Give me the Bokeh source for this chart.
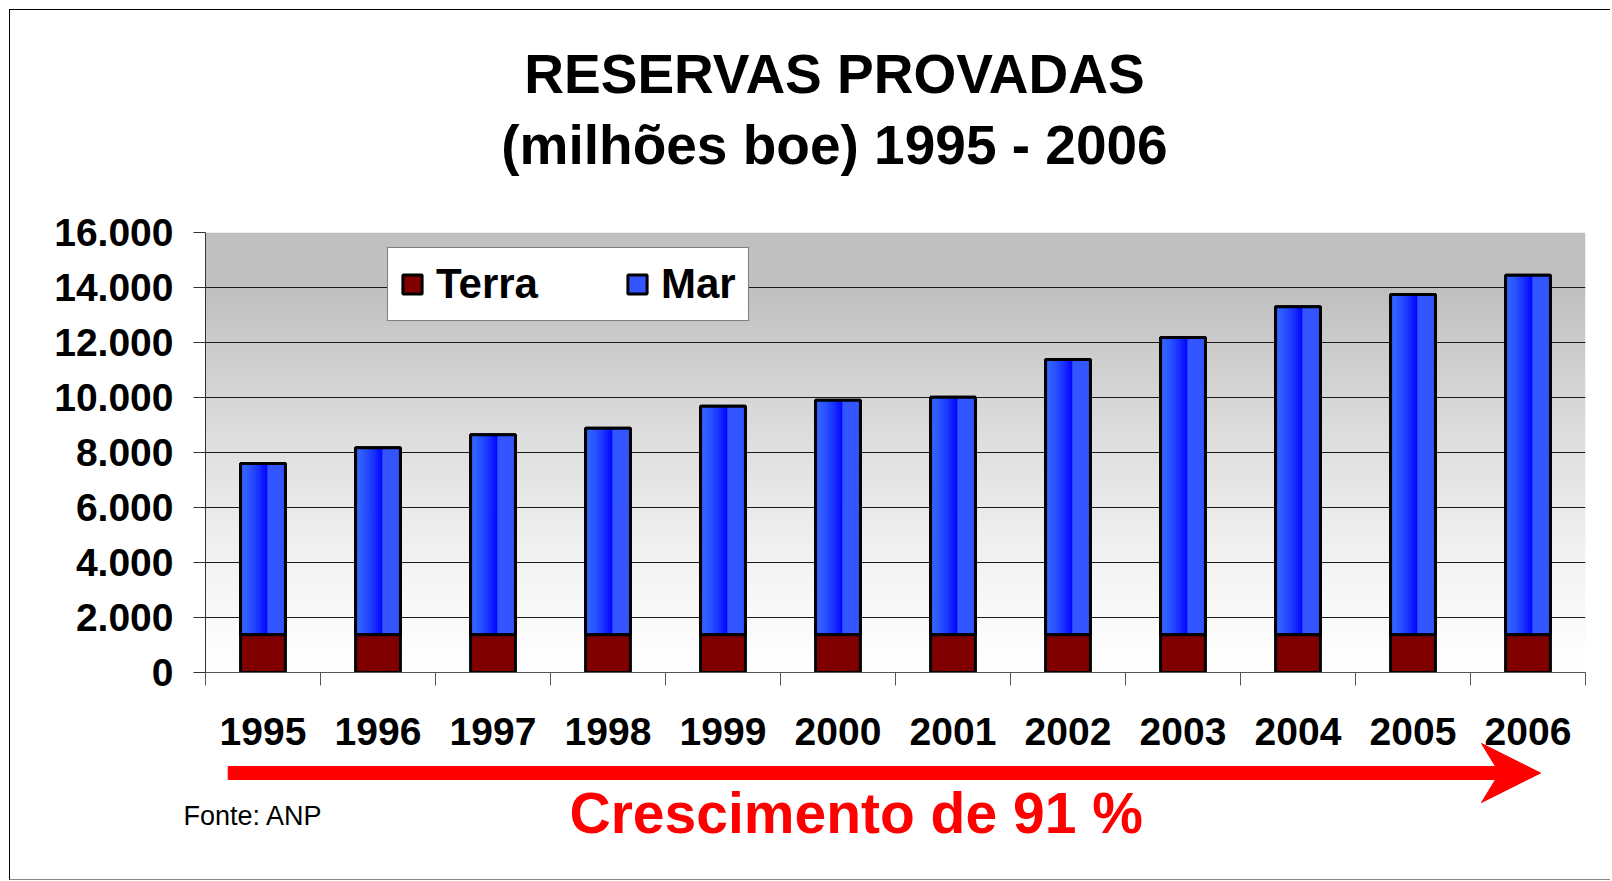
import numpy as np
from bokeh.plotting import figure
from bokeh.layouts import column
from bokeh.models import Range1d, FixedTicker, Legend, LegendItem, ColumnDataSource
from bokeh.core.properties import value
from bokeh.embed import file_html
from bokeh.resources import INLINE

# ---------------- data ----------------
years = ["1995", "1996", "1997", "1998", "1999", "2000",
         "2001", "2002", "2003", "2004", "2005", "2006"]
terra = [1370, 1370, 1370, 1370, 1370, 1370, 1370, 1370, 1370, 1370, 1370, 1370]
mar = [6230, 6800, 7280, 7510, 8310, 8530, 8640, 10010, 10810, 11930, 12380, 13080]
y_ticks = [0, 2000, 4000, 6000, 8000, 10000, 12000, 14000, 16000]
y_tick_labels = ["0", "2.000", "4.000", "6.000", "8.000", "10.000",
                 "12.000", "14.000", "16.000"]
title_lines = ["RESERVAS PROVADAS", "(milhões boe) 1995 - 2006"]
growth_text = "Crescimento de 91 %"
source_text = "Fonte: ANP"
legend_labels = ["Terra", "Mar"]

FONT = "Liberation Sans"

# ---------------- layout (page pixels) ----------------
PAGE_L, PAGE_R = 10, 1610          # canvas left/right on page
A_TOP, B_TOP, C_TOP, C_BOT = 10, 200, 696, 879
FL, FR, FT, FB = 205, 1585, 232, 672   # plot frame on page
W = PAGE_R - PAGE_L
NCAT = len(years)
PXC = (FR - FL) / NCAT
BASE_K = 0.34   # baseline correction (fraction of font size)


def dx(px):
    """page x -> category data units"""
    return 0.5 + (px - FL) / PXC


def by(py, fs):
    """page baseline -> y used for text glyph"""
    return py - BASE_K * fs


xs = list(range(1, NCAT + 1))
total = [t + m for t, m in zip(terra, mar)]
BW = 0.39


def blank_fig(h, x_range, y_range):
    f = figure(width=W, height=h, x_range=x_range, y_range=y_range,
               output_backend="svg", toolbar_location=None, title=None,
               x_axis_type=None, y_axis_type=None, min_border=0,
               background_fill_color="white", border_fill_color="white",
               outline_line_color=None)
    f.grid.visible = False
    if "frame_align" in f.properties():
        f.frame_align = False
    return f


# ---------------- top: titles ----------------
pa = blank_fig(B_TOP - A_TOP, Range1d(PAGE_L, PAGE_R), Range1d(B_TOP, A_TOP))
pa.text(x=[834, 834], y=[by(92.3, 55), by(163.3, 55)], text=title_lines,
        text_align="center", text_baseline="alphabetic", text_font=value(FONT),
        text_font_style="bold", text_font_size="55px", text_color="black")

# ---------------- middle: chart ----------------
pb = figure(width=W, height=C_TOP - B_TOP, x_range=Range1d(0.5, NCAT + 0.5),
            y_range=Range1d(0, 16000), output_backend="svg", toolbar_location=None,
            title=None, min_border_left=FL - PAGE_L, min_border_right=PAGE_R - FR,
            min_border_top=FT - B_TOP, min_border_bottom=C_TOP - FB,
            background_fill_color="white", border_fill_color="white",
            outline_line_color=None)
if "frame_align" in pb.properties():
    pb.frame_align = False

# background gradient
rows = np.linspace(0, 16000, 321)
tt = np.clip(rows / 14000.0, 0, 1)
v = (255 - 63 * tt ** 1.3).astype(np.uint8)
img = np.zeros((len(rows), 2), dtype=np.uint32)
view = img.view(dtype=np.uint8).reshape((len(rows), 2, 4))
view[:, :, 0] = v[:, None]
view[:, :, 1] = v[:, None]
view[:, :, 2] = v[:, None]
view[:, :, 3] = 255
pb.image_rgba(image=[img], x=0.5, y=0, dw=NCAT, dh=16000, level="image")

pb.xgrid.visible = False
pb.ygrid.ticker = FixedTicker(ticks=y_ticks)
pb.ygrid.grid_line_color = "#1a1a1a"
pb.ygrid.grid_line_width = 1

src = ColumnDataSource(dict(x=xs, terra=terra, total=total))
r_mar = pb.vbar(x="x", width=BW, bottom="terra", top="total", source=src,
                fill_color="#3355FF", line_color="black", line_width=3)

# gradient strips inside the Mar bars
sx, sw, sb, st, sc = [], [], [], [], []
N = 12
c0 = np.array([0x33, 0x66, 0xFF], float)
c1 = np.array([0x00, 0x00, 0xFF], float)
edges = np.linspace(0, 0.6, N + 1)
for i in range(NCAT):
    for k in range(N):
        f0, f1 = edges[k], edges[k + 1]
        tm = ((f0 + f1) / 2) / 0.6
        c = c0 + (c1 - c0) * tm ** 1.6
        sx.append(xs[i] - BW / 2 + BW * (f0 + f1) / 2)
        sw.append(BW * (f1 - f0) + 0.002)
        sb.append(terra[i])
        st.append(total[i])
        sc.append("#%02x%02x%02x" % tuple(int(round(q)) for q in c))
    sx.append(xs[i] - BW / 2 + BW * 0.8)
    sw.append(BW * 0.4)
    sb.append(terra[i])
    st.append(total[i])
    sc.append("#3355ff")
pb.vbar(x="x", width="w", bottom="b", top="t", fill_color="c", line_color=None,
        source=ColumnDataSource(dict(x=sx, w=sw, b=sb, t=st, c=sc)))
pb.vbar(x="x", width=BW, bottom="terra", top="total", source=src,
        fill_color=None, line_color="black", line_width=3)
r_terra = pb.vbar(x="x", width=BW, bottom=0, top="terra", source=src,
                  fill_color="#800000", line_color="black", line_width=3)

xa = pb.xaxis[0]
xa.ticker = FixedTicker(ticks=[], minor_ticks=[0.5 + i for i in range(NCAT + 1)])
xa.major_tick_line_color = None
xa.major_tick_in = 0
xa.major_tick_out = 0
xa.minor_tick_in = 0
xa.minor_tick_out = 13
xa.minor_tick_line_color = "#555"
xa.axis_line_color = "#555"
xa.major_label_standoff = 0

ya = pb.yaxis[0]
ya.ticker = FixedTicker(ticks=y_ticks)
ya.major_label_overrides = {t: l for t, l in zip(y_ticks, y_tick_labels)}
ya.major_tick_in = 0
ya.major_tick_out = 12
ya.major_tick_line_color = "#333"
ya.minor_tick_line_color = None
ya.axis_line_color = "#333"
ya.major_label_standoff = 20
ya.major_label_text_font = FONT
ya.major_label_text_font_style = "bold"
ya.major_label_text_font_size = "39px"
ya.major_label_text_color = "black"

legend = Legend(items=[LegendItem(label=legend_labels[0], renderers=[r_terra]),
                       LegendItem(label=legend_labels[1], renderers=[r_mar])],
                location=(387 - FL, FB - 321), orientation="horizontal", margin=0,
                padding=12, spacing=87, glyph_width=24, glyph_height=24,
                label_standoff=12, border_line_color="black", border_line_width=1,
                background_fill_color="white", background_fill_alpha=1.0,
                label_text_font=FONT, label_text_font_style="bold",
                label_text_font_size="42px", label_text_color="black")
pb.add_layout(legend)

# ---------------- bottom: year labels, arrow, notes ----------------
pc = blank_fig(C_BOT - C_TOP, Range1d(dx(PAGE_L), dx(PAGE_R)), Range1d(C_BOT, C_TOP))
pc.text(x=xs, y=[by(744, 39)] * NCAT, text=years, text_align="center",
        text_baseline="alphabetic", text_font=value(FONT), text_font_style="bold",
        text_font_size="39px", text_color="black")

ay, sh, hh = 772.5, 6.5, 29.5
ax0, axb, axn, axt = dx(227.7), dx(1481), dx(1499), dx(1540)
axs = axb + (axn - axb) * (1 - sh / hh)
pc.patch(x=[ax0, axs, axb, axt, axb, axs, ax0],
         y=[ay - sh, ay - sh, ay - hh, ay, ay + hh, ay + sh, ay + sh],
         fill_color="#FF0000", line_color="#FF0000", line_width=1)

pc.text(x=[dx(569)], y=[by(832.3, 57)], text=[growth_text], text_align="left",
        text_baseline="alphabetic", text_font=value(FONT), text_font_style="bold",
        text_font_size="57px", text_color="#FF0000")
pc.text(x=[dx(183)], y=[by(825, 27)], text=[source_text], text_align="left",
        text_baseline="alphabetic", text_font=value(FONT), text_font_size="27px",
        text_color="black")

layout = column(pa, pb, pc, spacing=0)
layout.styles = {"margin-left": "9px", "margin-top": "9px",
                 "border-left": "1px solid #000", "border-top": "1px solid #000",
                 "border-bottom": "1px solid #888"}

open("out.html", "w").write(file_html(layout, INLINE))
